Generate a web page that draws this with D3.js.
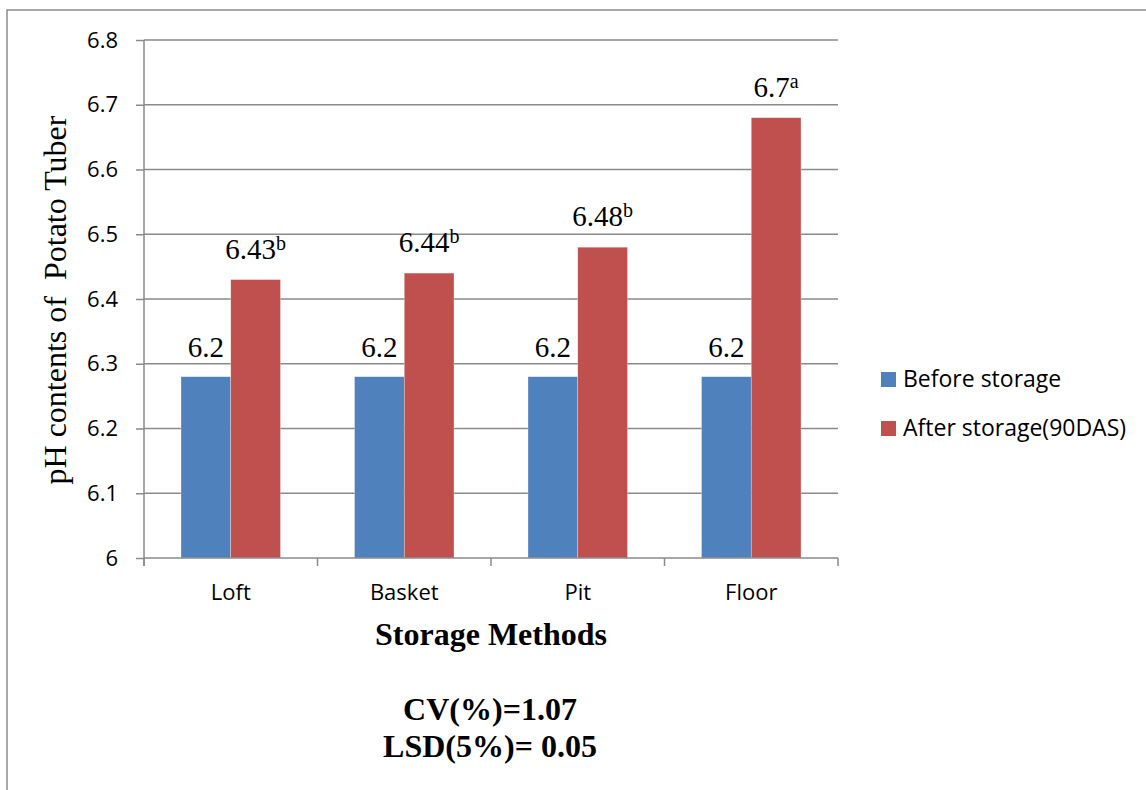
<!DOCTYPE html>
<html>
<head>
<meta charset="utf-8">
<script src="https://cdn.jsdelivr.net/npm/d3@7"></script>
<style>
  html, body { margin: 0; padding: 0; background: #fff; }
  svg { display: block; }
</style>
</head>
<body>
<svg id="chart" width="1146" height="790"></svg>
<script>
// pH of potato tubers by storage method
const categories = ["Loft", "Basket", "Pit", "Floor"];
const seriesNames = ["Before storage", "After storage(90DAS)"];
const beforeValues = [6.28, 6.28, 6.28, 6.28];
const afterValues = [6.43, 6.44, 6.48, 6.68];
const beforeLabels = ["6.2", "6.2", "6.2", "6.2"];
const afterLabels = ["6.43", "6.44", "6.48", "6.7"];
const afterLetters = ["b", "b", "b", "a"];
const yTicks = [6, 6.1, 6.2, 6.3, 6.4, 6.5, 6.6, 6.7, 6.8];
const colors = ["#4F81BD", "#C0504D"];

const svg = d3.select("#chart");
const sans = "'Open Sans', 'Noto Sans', sans-serif";
const serif = "'Liberation Serif', 'Times New Roman', serif";
const gridColor = "#8a8a8a";

// outer frame (top and left edges)
svg.append("path")
  .attr("d", "M7,790 L7,10 L1146,10")
  .attr("fill", "none").attr("stroke", gridColor).attr("stroke-width", 1.5);

const plot = { left: 144, right: 838, top: 40, bottom: 558 };

const x = d3.scaleBand().domain(categories).range([plot.left, plot.right]);
const xs = d3.scaleBand().domain([0, 1]).range([37, x.bandwidth() - 37]);
const y = d3.scaleLinear().domain([6, 6.8]).range([plot.bottom, plot.top]);

// horizontal gridlines
svg.append("g").selectAll("line").data(yTicks.slice(1)).join("line")
  .attr("x1", plot.left).attr("x2", plot.right)
  .attr("y1", d => y(d)).attr("y2", d => y(d))
  .attr("stroke", gridColor).attr("stroke-width", 1.5);

// y axis
const yAxis = d3.axisLeft(y).tickValues(yTicks).tickSize(8).tickPadding(18)
  .tickFormat(d => String(+d.toFixed(1)));
const gy = svg.append("g").attr("transform", `translate(${plot.left},0)`).call(yAxis);
gy.select(".domain").attr("stroke", gridColor).attr("stroke-width", 1.5)
  .attr("d", `M0,${plot.top}V${plot.bottom + 8}`);
gy.selectAll(".tick line").attr("stroke", gridColor).attr("stroke-width", 1.5);
gy.selectAll(".tick text").attr("font-family", sans).attr("font-size", 22).attr("fill", "#000");

// bars
const rows = categories.map((c, i) => ({ c, i, vals: [beforeValues[i], afterValues[i]] }));
const groups = svg.append("g").selectAll("g").data(rows).join("g")
  .attr("transform", d => `translate(${x(d.c)},0)`);
groups.selectAll("rect").data(d => d.vals.map((v, k) => ({ v, k }))).join("rect")
  .attr("x", d => xs(d.k)).attr("width", xs.bandwidth())
  .attr("y", d => y(d.v)).attr("height", d => y(6) - y(d.v))
  .attr("fill", d => colors[d.k])
  .attr("stroke", "#fff").attr("stroke-width", 0.6).attr("stroke-opacity", 0.5);

// x axis
const gx = svg.append("g");
gx.append("line").attr("x1", plot.left).attr("x2", plot.right)
  .attr("y1", plot.bottom).attr("y2", plot.bottom)
  .attr("stroke", gridColor).attr("stroke-width", 1.5);
const boundaries = categories.map(c => x(c)).concat([plot.right]);
gx.selectAll(".xt").data(boundaries).join("line").attr("class", "xt")
  .attr("x1", d => d).attr("x2", d => d)
  .attr("y1", plot.bottom).attr("y2", plot.bottom + 8)
  .attr("stroke", gridColor).attr("stroke-width", 1.5);
gx.selectAll("text").data(categories).join("text")
  .attr("x", d => x(d) + x.bandwidth() / 2).attr("y", 600)
  .attr("text-anchor", "middle").attr("font-family", sans).attr("font-size", 22)
  .attr("fill", "#000").text(d => d);

// value labels
groups.append("text")
  .attr("x", xs(0) + xs.bandwidth() / 2)
  .attr("y", d => y(d.vals[0]) - 20)
  .attr("text-anchor", "middle").attr("font-family", serif).attr("font-size", 29)
  .attr("fill", "#000").text(d => beforeLabels[d.i]);

const al = groups.append("text")
  .attr("x", xs(1) + xs.bandwidth() / 2)
  .attr("y", d => y(d.vals[1]) - 21)
  .attr("text-anchor", "middle").attr("font-family", serif).attr("font-size", 29)
  .attr("fill", "#000");
al.append("tspan").text(d => afterLabels[d.i]);
al.append("tspan").attr("font-size", 20).attr("dy", -9).text(d => afterLetters[d.i]);

// axis titles
svg.append("text")
  .attr("transform", "translate(66,300) rotate(-90)")
  .attr("text-anchor", "middle").attr("font-family", serif).attr("font-size", 32)
  .attr("fill", "#000").attr("xml:space", "preserve").text("pH contents of  Potato Tuber");

svg.append("text").attr("x", 491).attr("y", 645)
  .attr("text-anchor", "middle").attr("font-family", serif).attr("font-size", 32)
  .attr("font-weight", "bold").attr("fill", "#000").text("Storage Methods");

svg.append("text").attr("x", 490).attr("y", 720)
  .attr("text-anchor", "middle").attr("font-family", serif).attr("font-size", 32)
  .attr("font-weight", "bold").attr("fill", "#000").text("CV(%)=1.07");
svg.append("text").attr("x", 490).attr("y", 757)
  .attr("text-anchor", "middle").attr("font-family", serif).attr("font-size", 32)
  .attr("font-weight", "bold").attr("fill", "#000").attr("xml:space", "preserve").text("LSD(5%)= 0.05");

// legend
const legend = svg.append("g").selectAll("g").data(seriesNames).join("g")
  .attr("transform", (d, i) => `translate(881,${372 + i * 49})`);
legend.append("rect").attr("width", 15).attr("height", 15).attr("fill", (d, i) => colors[i]);
legend.append("text").attr("x", 22).attr("y", 15)
  .attr("font-family", sans).attr("font-size", 23).attr("fill", "#000").text(d => d);
</script>
</body>
</html>
